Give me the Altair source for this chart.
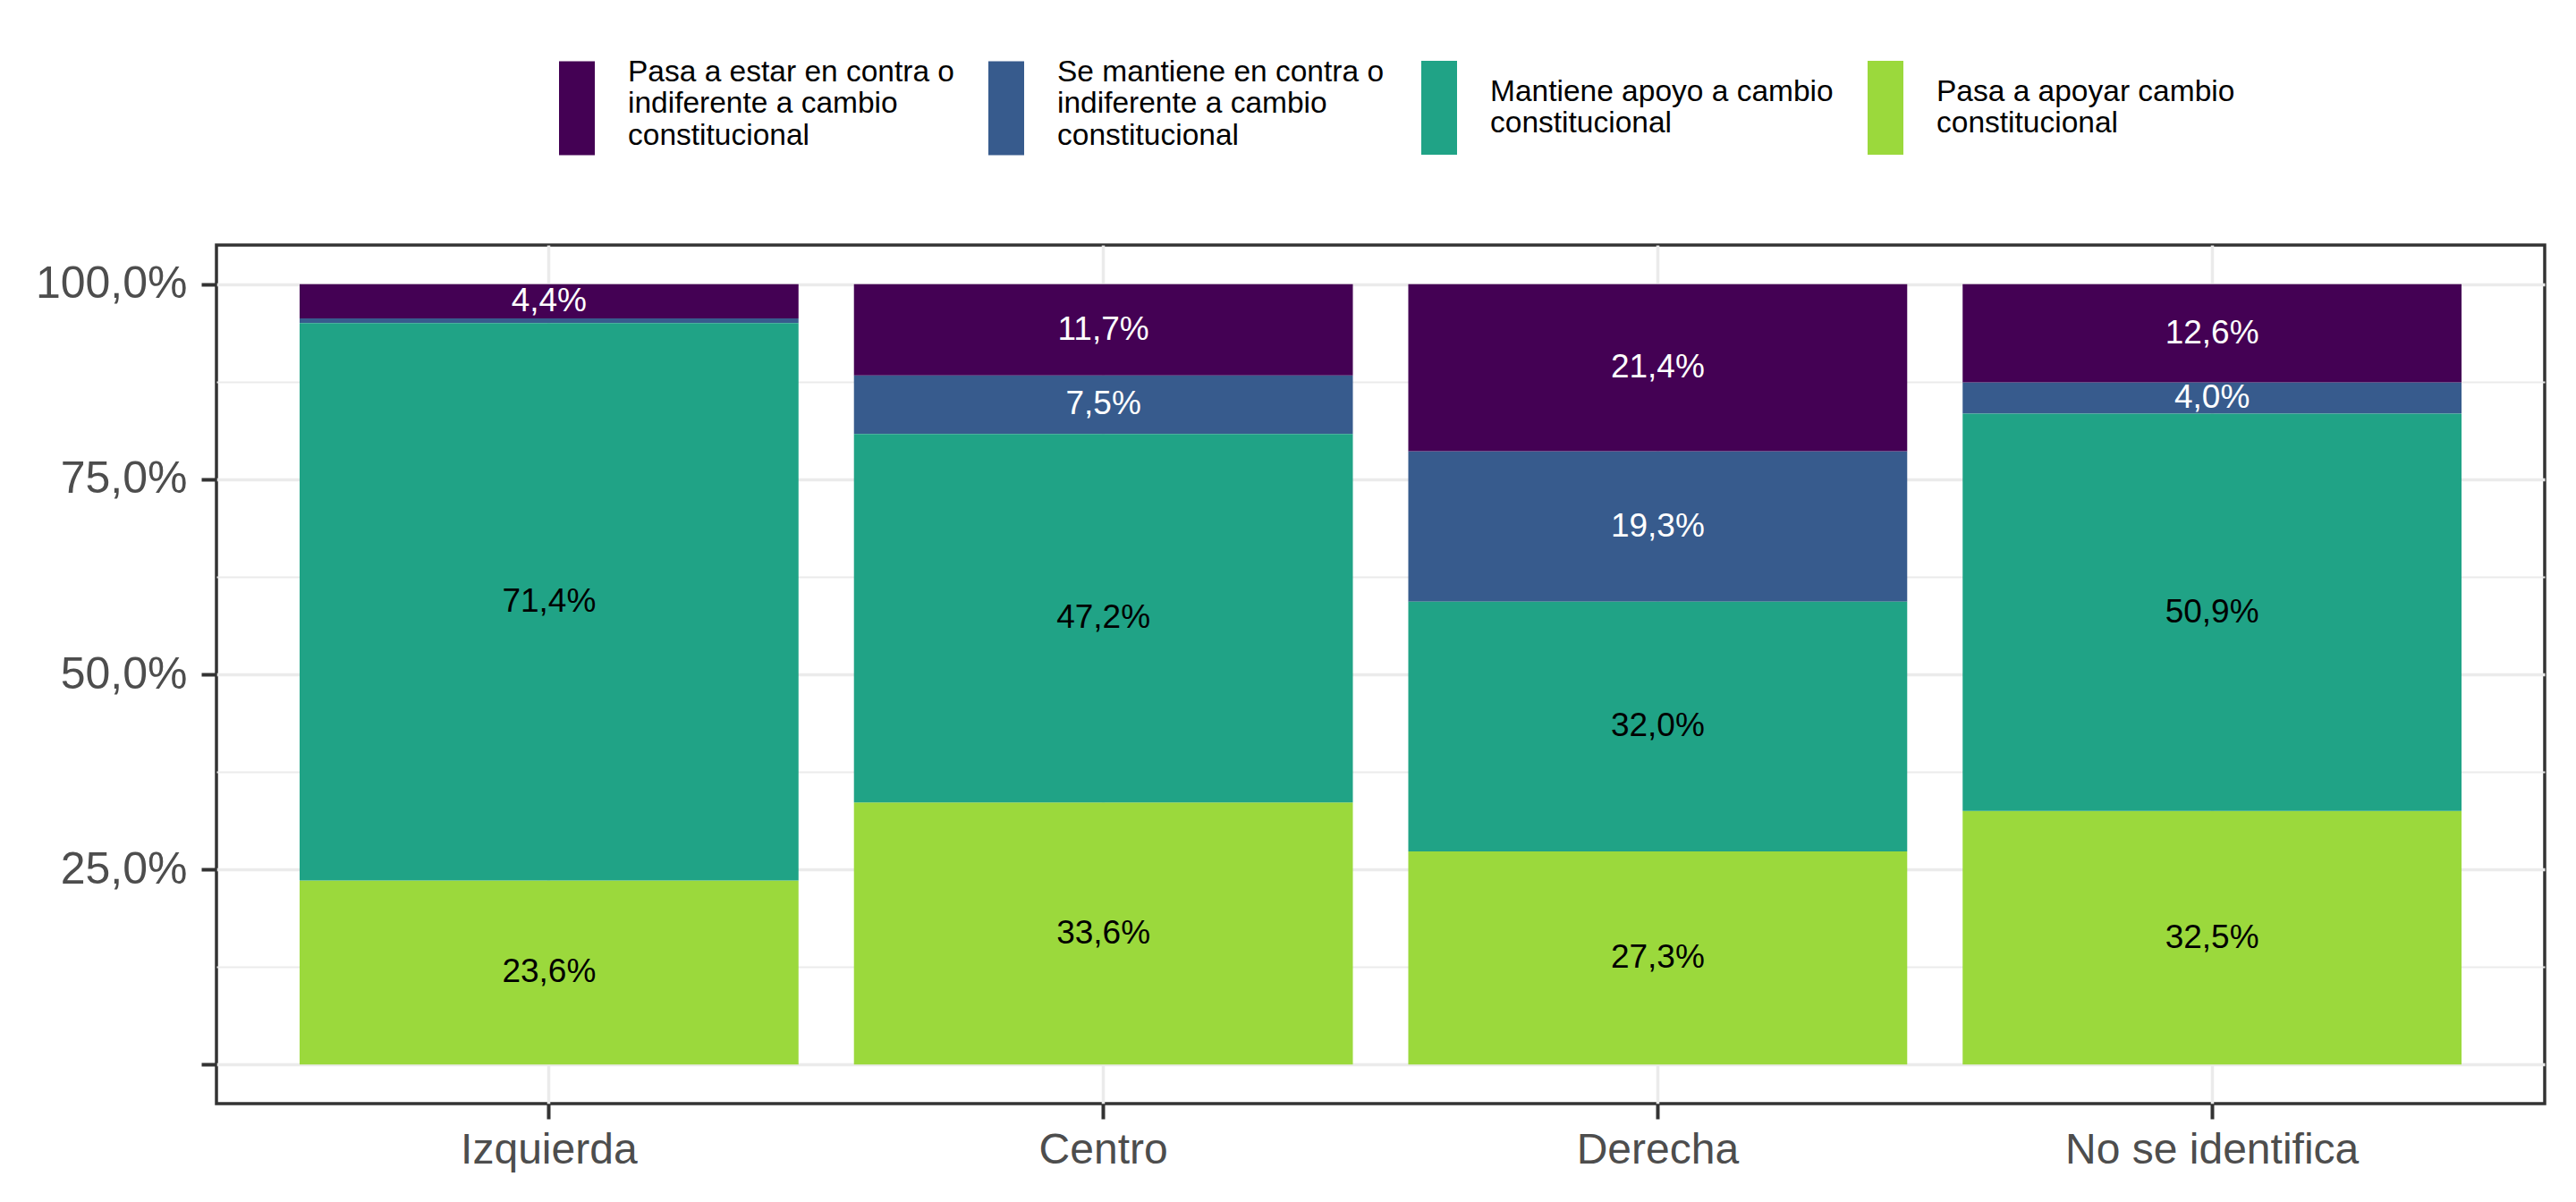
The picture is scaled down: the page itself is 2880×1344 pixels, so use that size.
import altair as alt
import pandas as pd

# ---- data ----
groups = ["Izquierda", "Centro", "Derecha", "No se identifica"]
categories = [
    "Pasa a estar en contra o indiferente a cambio constitucional",
    "Se mantiene en contra o indiferente a cambio constitucional",
    "Mantiene apoyo a cambio constitucional",
    "Pasa a apoyar cambio constitucional",
]
wrapped = [
    ["Pasa a estar en contra o", "indiferente a cambio", "constitucional"],
    ["Se mantiene en contra o", "indiferente a cambio", "constitucional"],
    ["Mantiene apoyo a cambio", "constitucional"],
    ["Pasa a apoyar cambio", "constitucional"],
]
colors = ["#440154", "#375b8d", "#20a386", "#9bd93c"]
text_colors = ["white", "white", "black", "black"]

# values per category (same order as categories), per group
pasa_contra = [4.4, 11.7, 21.4, 12.6]
mantiene_contra = [0.6, 7.5, 19.3, 4.0]
mantiene_apoyo = [71.4, 47.2, 32.0, 50.9]
pasa_apoyo = [23.6, 33.6, 27.3, 32.5]
series = [pasa_contra, mantiene_contra, mantiene_apoyo, pasa_apoyo]

y_ticks = [0, 12.5, 25, 37.5, 50, 62.5, 75, 87.5, 100]

# ---- build table (stack from bottom: last category first) ----
rows = []
for gi, g in enumerate(groups):
    base = 0.0
    for ci in reversed(range(len(categories))):
        v = series[ci][gi]
        rows.append({
            "grupo": g,
            "cat": categories[ci],
            "val": v,
            "y0": base,
            "y1": base + v,
            "mid": base + v / 2,
            "lab": (f"{v:.1f}".replace(".", ",") + "%") if v >= 1 else "",
            "tc": text_colors[ci],
        })
        base += v
df = pd.DataFrame(rows)

label_expr = " : ".join(
    f"datum.label == '{c}' ? {w!r}" for c, w in zip(categories, wrapped)
) + " : datum.label"

font = "Liberation Sans"

x_axis = alt.Axis(
    title=None,
    labelAngle=0,
    labelFont=font,
    labelFontSize=48,
    labelColor="#4d4d4d",
    labelPadding=11,
    labelLimit=0,
    tickSize=17,
    tickWidth=4,
    tickColor="#333333",
    domain=False,
    grid=True,
    gridColor="#ebebeb",
    gridWidth=3.5,
    bandPosition=0.5,
)
x_scale = alt.Scale(paddingInner=0.1, paddingOuter=0.15)

y_axis = alt.Axis(
    title=None,
    values=y_ticks,
    labelExpr="datum.value % 25 == 0 && datum.value > 0 ? replace(format(datum.value, '.1f'), '.', ',') + '%' : ''",
    labelFont=font,
    labelFontSize=50,
    labelColor="#4d4d4d",
    labelPadding=16,
    labelLimit=0,
    tickSize=17,
    tickWidth=4,
    tickColor="#333333",
    tickOpacity={"condition": {"test": "datum.value % 25 == 0", "value": 1}, "value": 0},
    domain=False,
    grid=True,
    gridColor="#ebebeb",
    gridWidth={"condition": {"test": "datum.value % 25 == 0", "value": 3.5}, "value": 1.8},
)
y_scale = alt.Scale(domain=[-5, 105], nice=False, zero=False)


def legend_for(legend_x, legend_y, shape):
    return alt.Legend(
        title=None,
        orient="none",
        legendX=legend_x,
        legendY=legend_y,
        direction="horizontal",
        columns=2,
        padding=0,
        columnPadding=5,
        symbolType=shape,
        symbolSize=11025,
        symbolStrokeWidth=0,
        symbolOpacity=1,
        labelFont=font,
        labelFontSize=33.5,
        labelColor="black",
        labelLimit=0,
        labelOffset=4.5,
        labelBaseline="middle",
        labelExpr=label_expr,
    )


def bar_layer(cat_idx, legend):
    cats = [categories[i] for i in cat_idx]
    cols = [colors[i] for i in cat_idx]
    return alt.Chart(df).transform_filter(
        alt.FieldOneOfPredicate(field="cat", oneOf=cats)
    ).mark_bar().encode(
        x=alt.X("grupo:N", sort=groups, scale=x_scale, axis=x_axis),
        y=alt.Y("y0:Q", scale=y_scale, axis=y_axis),
        y2="y1:Q",
        color=alt.Color("cat:N", scale=alt.Scale(domain=cats, range=cols), legend=legend),
    )


# three-line labels: symbol centred on the middle line; two-line labels: centred on the block
bars_a = bar_layer([0, 1], legend_for(350.5, -246, "M-0.381,-0.238H0.381V1.762H-0.381Z"))
bars_b = bar_layer([2, 3], legend_for(1314.5, -223.75, "M-0.381,-0.662H0.381V1.338H-0.381Z"))

labels = alt.Chart(df).mark_text(font=font, fontSize=37, baseline="middle").encode(
    x=alt.X("grupo:N", sort=groups, scale=x_scale, axis=x_axis),
    y=alt.Y("mid:Q", scale=y_scale, axis=y_axis),
    text="lab:N",
    color=alt.Color("tc:N", scale=None),
)

chart = alt.layer(bars_a, bars_b, labels).resolve_scale(
    color="independent"
).properties(
    width=2603,
    height=960,
    autosize=alt.AutoSizeParams(type="none"),
    padding={"left": 242, "top": 274, "right": 35, "bottom": 110},
    background="white",
).configure_view(
    stroke="#333333",
    strokeWidth=3.5,
)

chart.save("out.html", embed_options={"renderer": "svg", "actions": False})
